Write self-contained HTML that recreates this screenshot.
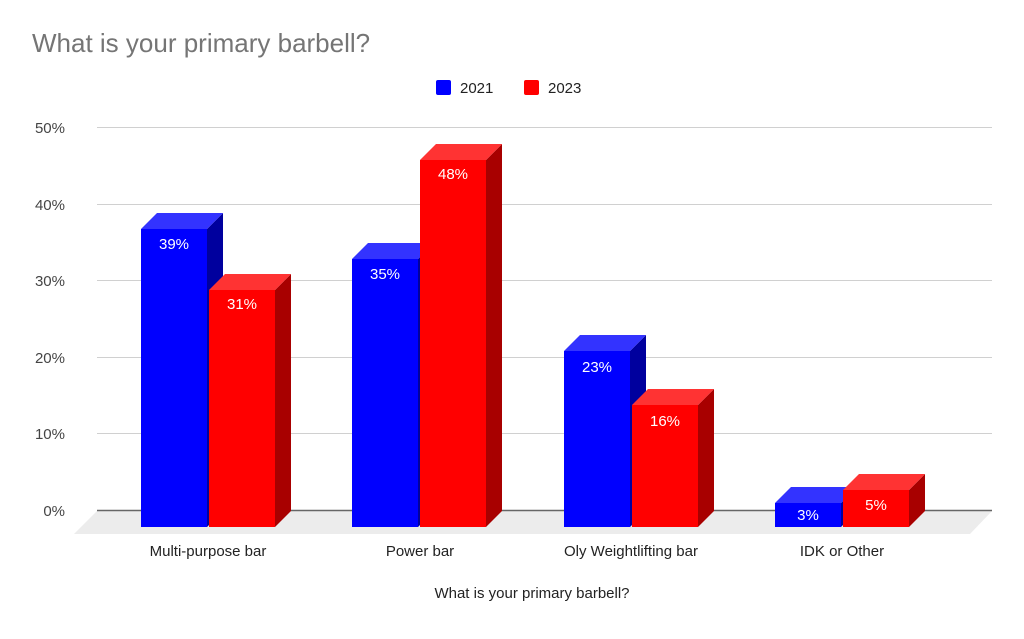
<!DOCTYPE html>
<html><head><style>body{margin:0;background:#fff}</style></head><body>
<svg width="1024" height="634" xmlns="http://www.w3.org/2000/svg" font-family="Liberation Sans, sans-serif">
<rect width="1024" height="634" fill="#fff"/>
<text x="32" y="52" font-size="26" fill="#757575">What is your primary barbell?</text>
<rect x="436" y="80" width="15" height="15" rx="2" fill="#0000ff"/>
<text x="460" y="93" font-size="15" fill="#222">2021</text>
<rect x="524" y="80" width="15" height="15" rx="2" fill="#ff0000"/>
<text x="548" y="93" font-size="15" fill="#222">2023</text>
<g stroke="#d0d0d0" stroke-width="1">
<line x1="97" y1="127.5" x2="992" y2="127.5"/><line x1="97" y1="204.5" x2="992" y2="204.5"/>
<line x1="97" y1="280.5" x2="992" y2="280.5"/><line x1="97" y1="357.5" x2="992" y2="357.5"/>
<line x1="97" y1="433.5" x2="992" y2="433.5"/>
</g>
<g font-size="15" fill="#444" text-anchor="end">
<text x="65" y="133">50%</text><text x="65" y="210">40%</text><text x="65" y="286">30%</text>
<text x="65" y="363">20%</text><text x="65" y="439">10%</text><text x="65" y="516">0%</text>
</g>
<polygon points="97,511 992,511 970,534 74,534" fill="#ececec"/>
<line x1="97" y1="510.5" x2="992" y2="510.5" stroke="#666" stroke-width="1.5"/>

<!-- group 1 -->
<polygon points="207,229 223,213 223,511 207,527" fill="#00009e"/>
<polygon points="141,229 157,213 223,213 207,229" fill="#3333ff"/>
<rect x="141" y="229" width="66" height="298" fill="#0000ff"/>
<polygon points="275,290 291,274 291,511 275,527" fill="#a80000"/>
<polygon points="209,290 225,274 291,274 275,290" fill="#ff3333"/>
<rect x="209" y="290" width="66" height="237" fill="#ff0000"/>
<!-- group 2 -->
<polygon points="418,259 434,243 434,511 418,527" fill="#00009e"/>
<polygon points="352,259 368,243 434,243 418,259" fill="#3333ff"/>
<rect x="352" y="259" width="66" height="268" fill="#0000ff"/>
<polygon points="486,160 502,144 502,511 486,527" fill="#a80000"/>
<polygon points="420,160 436,144 502,144 486,160" fill="#ff3333"/>
<rect x="420" y="160" width="66" height="367" fill="#ff0000"/>
<!-- group 3 -->
<polygon points="630,351 646,335 646,511 630,527" fill="#00009e"/>
<polygon points="564,351 580,335 646,335 630,351" fill="#3333ff"/>
<rect x="564" y="351" width="66" height="176" fill="#0000ff"/>
<polygon points="698,405 714,389 714,511 698,527" fill="#a80000"/>
<polygon points="632,405 648,389 714,389 698,405" fill="#ff3333"/>
<rect x="632" y="405" width="66" height="122" fill="#ff0000"/>
<!-- group 4 -->
<polygon points="841,503 857,487 857,511 841,527" fill="#00009e"/>
<polygon points="775,503 791,487 857,487 841,503" fill="#3333ff"/>
<rect x="775" y="503" width="66" height="24" fill="#0000ff"/>
<polygon points="909,490 925,474 925,511 909,527" fill="#a80000"/>
<polygon points="843,490 859,474 925,474 909,490" fill="#ff3333"/>
<rect x="843" y="490" width="66" height="37" fill="#ff0000"/>

<g font-size="15" fill="#fff" text-anchor="middle">
<text x="174" y="249">39%</text><text x="242" y="309">31%</text>
<text x="385" y="279">35%</text><text x="453" y="179">48%</text>
<text x="597" y="372">23%</text><text x="665" y="426">16%</text>
<text x="808" y="520">3%</text><text x="876" y="510">5%</text>
</g>
<g font-size="15" fill="#222" text-anchor="middle">
<text x="208" y="556">Multi-purpose bar</text><text x="420" y="556">Power bar</text>
<text x="631" y="556">Oly Weightlifting bar</text><text x="842" y="556">IDK or Other</text>
<text x="532" y="598">What is your primary barbell?</text>
</g>
</svg>
</body></html>
